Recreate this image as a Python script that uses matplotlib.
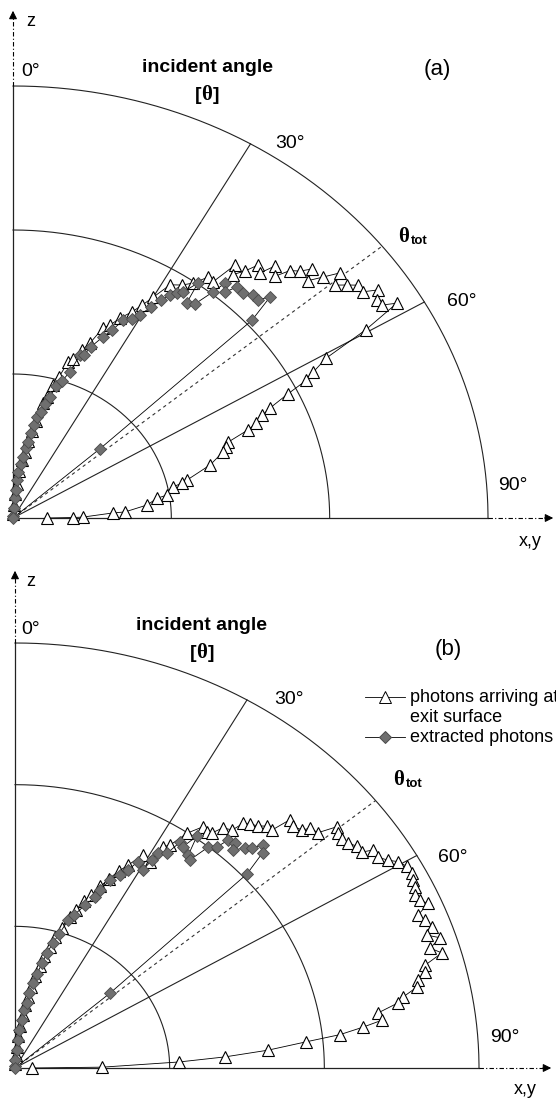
import matplotlib.pyplot as plt
from matplotlib.lines import Line2D
import numpy as np

plt.rcParams['font.family'] = ['Liberation Sans', 'DejaVu Sans']

# === DATA: polar distributions (angle in degrees, relative radius) ===
# panel (a)
a_arr_theta = [1, 3, 4.5, 5.5, 6.5, 8, 9, 10, 11, 12, 13.3, 14.5, 15.3, 16.5, 17.8, 19, 20.5, 21.8,
               23.3, 24.5, 26, 27.7, 28.9, 30, 31.5, 33.4, 34.9, 36.4, 37.6, 38.6, 39.4, 40.5, 41.4,
               42.5, 43.4, 44.6, 45.5, 46.6, 47.5, 48.5, 49.5, 50.5, 51.5, 52.5, 53.4, 54.6, 55.5,
               56.6, 57.6, 58.4, 59.6, 60.7, 61.9, 62.7, 63.6, 64.8, 65.6, 66.8, 67.6, 68.8, 69.8,
               70.9, 73.5, 76.5, 77.2, 77.9, 80.7, 81.4, 83.9, 86.6, 86.8, 89.2, 89.5, 90]
a_arr_r = [0.01, 0.03, 0.055, 0.08, 0.11, 0.135, 0.155, 0.18, 0.205, 0.23, 0.274, 0.29, 0.319, 0.34,
           0.379, 0.39, 0.415, 0.436, 0.479, 0.49, 0.515, 0.539, 0.563, 0.59, 0.633, 0.646, 0.663,
           0.693, 0.690, 0.749, 0.729, 0.752, 0.781, 0.769, 0.803, 0.786, 0.817, 0.832, 0.853,
           0.829, 0.859, 0.892, 0.866, 0.886, 0.904, 0.904, 0.932, 0.918, 0.920, 0.949, 0.861,
           0.756, 0.716, 0.695, 0.646, 0.598, 0.576, 0.557, 0.535, 0.486, 0.477, 0.468, 0.433,
           0.377, 0.365, 0.345, 0.329, 0.307, 0.284, 0.236, 0.211, 0.147, 0.126, 0.072]
a_ext_theta = [1, 3, 4.5, 5.3, 5.6, 6.2, 7.7, 8.5, 9.6, 10.2, 10.9, 11.6, 12.2, 13.5, 14.2, 15.5,
               16.5, 18.0, 19.5, 20.5, 21.6, 22.5, 24.3, 25.6, 26.9, 28.6, 29.6, 30.8, 31.7, 32.7,
               33.5, 34.4, 35.6, 36.3, 37.7, 38.8, 39.4, 40.5, 41.4, 42.9, 44.4, 45.6, 46.6, 47.7,
               48.8, 50.0]
a_ext_r = [0.005, 0.023, 0.046, 0.065, 0.088, 0.107, 0.126, 0.143, 0.164, 0.179, 0.200, 0.219,
           0.239, 0.252, 0.272, 0.291, 0.319, 0.333, 0.359, 0.403, 0.406, 0.429, 0.460, 0.482,
           0.513, 0.525, 0.541, 0.569, 0.593, 0.613, 0.625, 0.634, 0.669, 0.618, 0.626, 0.671,
           0.704, 0.688, 0.713, 0.711, 0.722, 0.722, 0.745, 0.680, 0.243, 0.0]

# panel (b)
b_arr_theta = [1, 3, 4.5, 5.5, 6.5, 7.5, 8.5, 9.5, 10.5, 11.5, 12.5, 13.5, 14.8, 15.8, 17.0, 18.3,
               19.6, 20.8, 22.0, 23.3, 24.5, 25.8, 27.0, 28.8, 31.0, 31.5, 32.5, 33.9, 35.5, 36.7,
               37.5, 38.4, 39.9, 40.5, 41.4, 42.6, 43.7, 44.7, 45.4, 46.5, 47.9, 48.4, 49.7, 50.7,
               51.5, 52.6, 53.6, 54.7, 55.8, 56.4, 57.6, 58.7, 59.5, 60.7, 61.8, 62.7, 63.7, 64.7,
               65.7, 66.5, 67.5, 68.5, 69.7, 70.6, 71.5, 72.5, 73.6, 74.7, 75.7, 76.6, 77.6, 78.7,
               79.5, 80.6, 81.9, 82.7, 83.6, 84.4, 85.6, 86.7, 87.7, 89.4, 90]
b_arr_r = [0.01, 0.03, 0.05, 0.075, 0.10, 0.125, 0.15, 0.17, 0.195, 0.22, 0.245, 0.27, 0.295, 0.32,
           0.345, 0.375, 0.395, 0.42, 0.44, 0.465, 0.49, 0.515, 0.535, 0.572, 0.565, 0.610, 0.622,
           0.666, 0.697, 0.693, 0.697, 0.721, 0.730, 0.757, 0.765, 0.774, 0.787, 0.788, 0.832,
           0.826, 0.835, 0.850, 0.856, 0.896, 0.889, 0.887, 0.892, 0.903, 0.904, 0.927, 0.926,
           0.941, 0.957, 0.969, 0.971, 0.965, 0.962, 0.953, 0.958, 0.971, 0.940, 0.950, 0.958,
           0.941, 0.966, 0.938, 0.959, 0.916, 0.912, 0.893, 0.887, 0.853, 0.839, 0.793, 0.799,
           0.756, 0.705, 0.630, 0.547, 0.453, 0.354, 0.188, 0.037]
b_ext_theta = [1, 3, 4.5, 5.5, 5.8, 7.6, 8.1, 9.6, 9.8, 10.9, 12.1, 13.3, 14.3, 15.5, 16.8, 18.2,
               19.5, 21.5, 23.2, 23.6, 24.9, 26.5, 27.6, 28.6, 30.6, 31.1, 31.3, 33.0, 33.8, 34.8,
               35.7, 36.7, 37.6, 38.7, 39.9, 40.6, 41.9, 42.5, 43.8, 44.6, 45.5, 46.5, 47.6, 49.3, 50]
b_ext_r = [0.005, 0.019, 0.042, 0.066, 0.090, 0.114, 0.138, 0.155, 0.179, 0.204, 0.226, 0.254,
           0.279, 0.305, 0.329, 0.366, 0.382, 0.412, 0.438, 0.457, 0.488, 0.507, 0.526, 0.552,
           0.541, 0.572, 0.592, 0.603, 0.640, 0.634, 0.672, 0.625, 0.618, 0.666, 0.678, 0.706,
           0.711, 0.696, 0.717, 0.727, 0.749, 0.736, 0.677, 0.270, 0.0]

rings = [1 / 3, 2 / 3, 1.0]
spokes = [30, 60]
theta_tot = 51

W, H = 556, 1098
fig = plt.figure(figsize=(W / 100, H / 100), dpi=100)


def polar_xy(theta, r):
    t = np.radians(theta)
    r = np.asarray(r, dtype=float)
    return r * np.sin(t), r * np.cos(t)


def ftext(px, py, s, **kw):
    kw.setdefault('ha', 'center')
    kw.setdefault('va', 'center')
    fig.text(px / W, 1 - py / H, s, **kw)


def make_panel(top, bottom, ox, oy, rx, ry, arr_t, arr_r, ext_t, ext_r, tip_x, tip_z):
    ax = fig.add_axes([0, 1 - bottom / H, 1, (bottom - top) / H])
    ax.set_xlim(-ox / rx, (W - ox) / rx)
    ax.set_ylim((oy - bottom) / ry, (oy - top) / ry)
    ax.axis('off')
    gc = '#222222'
    t = np.linspace(0, 90, 200)
    for r in rings:
        x, z = polar_xy(t, np.full_like(t, r))
        ax.plot(x, z, color=gc, lw=0.8)
    for s in spokes:
        x, z = polar_xy([s, s], [0, 1])
        ax.plot(x, z, color=gc, lw=0.8)
    x, z = polar_xy([theta_tot, theta_tot], [0, 1])
    ax.plot(x, z, color='#333333', lw=0.8, ls=(0, (3, 3)))
    # axes
    ax.plot([0, 0], [0, 1], color=gc, lw=0.9)
    ax.plot([0, 1], [0, 0], color=gc, lw=0.9)
    zt = (oy - tip_z) / ry
    xt = (tip_x - ox) / rx
    ax.plot([0, 0], [1, zt - 0.02], color='k', lw=0.8, ls=(0, (4, 2, 1, 2)))
    ax.plot([1, xt - 0.02], [0, 0], color='k', lw=0.8, ls=(0, (4, 2, 1, 2)))
    ax.annotate('', xy=(0, zt), xytext=(0, zt - 0.03),
                arrowprops=dict(arrowstyle='-|>', color='k', lw=0.8, mutation_scale=12))
    ax.annotate('', xy=(xt, 0), xytext=(xt - 0.03, 0),
                arrowprops=dict(arrowstyle='-|>', color='k', lw=0.8, mutation_scale=12))
    # data
    x, z = polar_xy(arr_t, arr_r)
    ax.plot(x, z, color='k', lw=0.6, marker='^', ms=8, mfc='white', mec='black', mew=0.8,
            clip_on=False, zorder=3)
    x, z = polar_xy(ext_t, ext_r)
    ax.plot(x, z, color='k', lw=0.6, marker='D', ms=6.5, mfc='#6f6f6f', mec='#4a4a4a',
            mew=0.6, clip_on=False, zorder=4)
    return ax


make_panel(0, 549, 13, 518, 475, 432, a_arr_theta, a_arr_r, a_ext_theta, a_ext_r, 556, 8)
make_panel(549, 1098, 15, 1068, 464, 425, b_arr_theta, b_arr_r, b_ext_theta, b_ext_r, 554, 568)

deg = dict(fontsize=14)
bold = dict(fontsize=14, fontweight='bold')
greek = dict(fontsize=15, fontweight='bold', family=['Liberation Serif', 'DejaVu Serif'])

# panel (a) labels
ftext(31, 22, 'z', fontsize=13)
ftext(31, 72, '0°', **deg)
ftext(207, 67, 'incident angle', **bold)
ftext(198, 95, '[', **bold)
ftext(207, 95, 'θ', **greek)
ftext(216, 95, ']', **bold)
ftext(437, 70, '(a)', fontsize=16)
ftext(290, 143, '30°', **deg)
ftext(404, 237, 'θ', **greek)
ftext(419, 241, 'tot', fontsize=9.5, fontweight='bold')
ftext(462, 302, '60°', **deg)
ftext(513, 486, '90°', **deg)
ftext(530, 541, 'x,y', fontsize=13)

# panel (b) labels
ftext(31, 582, 'z', fontsize=13)
ftext(31, 629, '0°', **deg)
ftext(202, 625, 'incident angle', **bold)
ftext(193, 653, '[', **bold)
ftext(202, 653, 'θ', **greek)
ftext(211, 653, ']', **bold)
ftext(448, 650, '(b)', fontsize=16)
ftext(289, 700, '30°', **deg)
ftext(399, 780, 'θ', **greek)
ftext(414, 784, 'tot', fontsize=9.5, fontweight='bold')
ftext(453, 857, '60°', **deg)
ftext(505, 1037, '90°', **deg)
ftext(525, 1089, 'x,y', fontsize=13)

# legend (panel b)
for y, mk, fc in [(697, '^', 'white'), (737, 'D', '#6f6f6f')]:
    fy = 1 - y / H
    fig.add_artist(Line2D([365 / W, 405 / W], [fy, fy], color='k', lw=0.6,
                          transform=fig.transFigure))
    fig.add_artist(Line2D([385 / W], [fy], marker=mk, ms=8 if mk == '^' else 6.5,
                          mfc=fc, mec='k' if mk == '^' else '#4a4a4a', mew=0.7,
                          transform=fig.transFigure))
ftext(410, 697, 'photons arriving at', fontsize=13, ha='left')
ftext(410, 718, 'exit surface', fontsize=13, ha='left')
ftext(410, 737, 'extracted photons', fontsize=13, ha='left')

fig.savefig('out.png', dpi=100)
